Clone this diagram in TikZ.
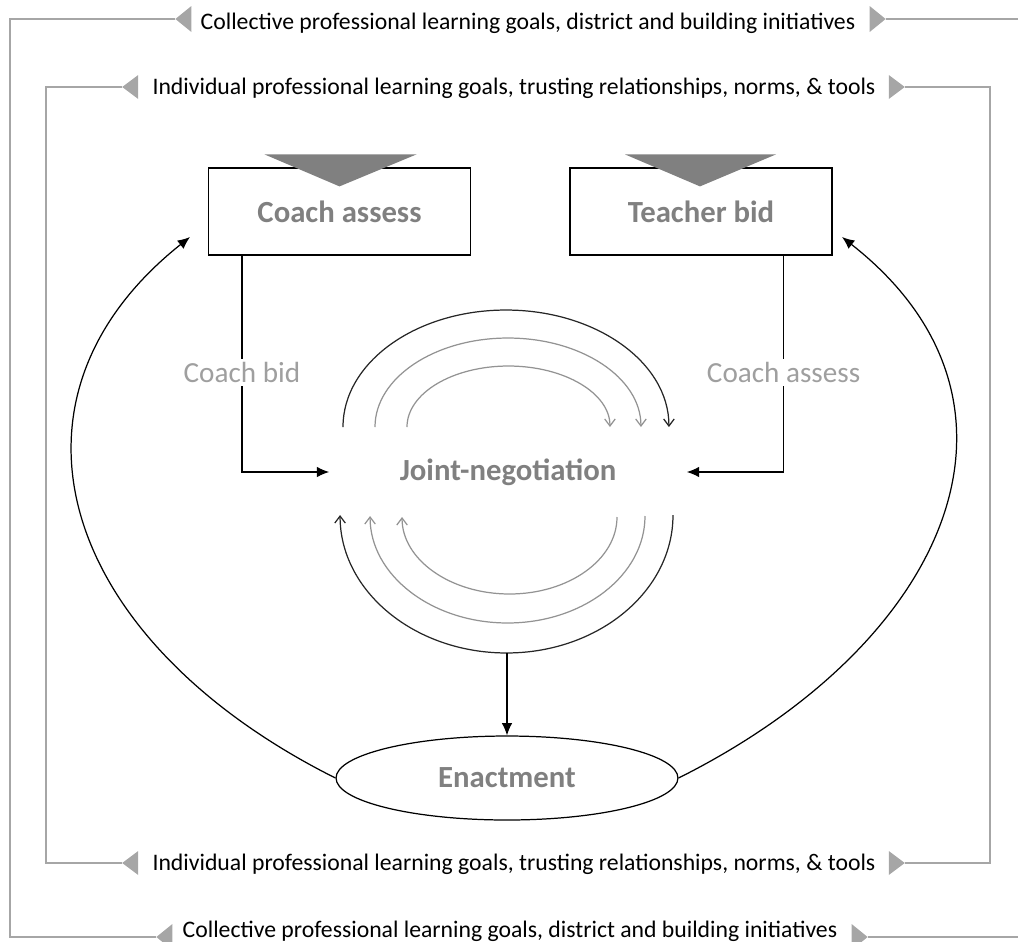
\documentclass[tikz,border=0pt]{standalone}
\usepackage{fontspec}
\setmainfont{Carlito}
\usetikzlibrary{arrows.meta,positioning,shapes.geometric}

\begin{document}
\begin{tikzpicture}[x=0.02cm, y=-0.02cm]

  % ── Estilos ────────────────────────────────────────────────
  \tikzset{
    moldura/.style = {draw=gray!70, line width=0.8pt},
    ponta/.style = {fill=gray!70},
    faixa/.style = {font=\fontsize{13.5}{15}\selectfont, inner sep=0pt},
    caixa/.style = {draw, line width=0.7pt, minimum width=5.24cm, minimum height=1.74cm,
                    font=\fontsize{17.5}{19}\selectfont\bfseries, text=gray},
    rotulo/.style = {fill=white, font=\fontsize{16.6}{18}\selectfont, text=gray!75, inner sep=2pt},
    fluxo/.style = {draw, line width=0.7pt, -{Latex[length=7pt,width=6pt]}},
    giro/.style = {line width=0.7pt, -{Straight Barb[length=4pt,width=6pt]}}
  }

  \useasboundingbox (0,0) rectangle (1018,941);

  % =========================================================
  % 1. FAIXAS DE CONTEXTO (molduras externa e interna)
  % =========================================================
  \node[faixa] (colcima) at (528,23) {Collective professional learning goals, district and building initiatives};
  \node[faixa] (indcima) at (514,88) {Individual professional learning goals, trusting relationships, norms, \& tools};
  \node[faixa] (indbaixo) at (514,864) {Individual professional learning goals, trusting relationships, norms, \& tools};
  \node[faixa] (colbaixo) at (510,931) {Collective professional learning goals, district and building initiatives};

  % Pontas cinzas nas extremidades das faixas
  \fill[ponta] ([shift={(-9,0)}]colcima.west |- 0,19) -- ++(0,-13) -- ++(-16,13) coordinate (colcimaE) -- ++(16,13) -- cycle;
  \fill[ponta] ([shift={(14,0)}]colcima.east |- 0,19) -- ++(0,-13) -- ++(16,13) coordinate (colcimaD) -- ++(-16,13) -- cycle;
  \fill[ponta] ([shift={(-14,0)}]indcima.west |- 0,87) -- ++(0,-12) -- ++(-16,12) coordinate (indcimaE) -- ++(16,12) -- cycle;
  \fill[ponta] ([shift={(13,0)}]indcima.east |- 0,87) -- ++(0,-12) -- ++(16,12) coordinate (indcimaD) -- ++(-16,12) -- cycle;
  \fill[ponta] ([shift={(-14,0)}]indbaixo.west |- 0,863) -- ++(0,-12) -- ++(-16,12) coordinate (indbaixoE) -- ++(16,12) -- cycle;
  \fill[ponta] ([shift={(13,0)}]indbaixo.east |- 0,863) -- ++(0,-12) -- ++(16,12) coordinate (indbaixoD) -- ++(-16,12) -- cycle;
  \fill[ponta] ([shift={(-10,0)}]colbaixo.west |- 0,937) -- ++(0,-13) -- ++(-16,13) coordinate (colbaixoE) -- ++(16,13) -- cycle;
  \fill[ponta] ([shift={(14,0)}]colbaixo.east |- 0,937) -- ++(0,-13) -- ++(16,13) coordinate (colbaixoD) -- ++(-16,13) -- cycle;

  % Linhas das molduras
  \draw[moldura] (colcimaE) -- (10,19) -- (10,937) -- (colbaixoE);
  \draw[moldura] (colcimaD) -- (1018,19);
  \draw[moldura] (colbaixoD) -- (1018,937);
  \draw[moldura] (indcimaE) -- (46,87) -- (46,863) -- (indbaixoE);
  \draw[moldura] (indcimaD) -- (990,87) -- (990,863) -- (indbaixoD);

  % =========================================================
  % 2. CAIXAS E NEGOCIACAO
  % =========================================================
  \node[caixa] (avaliar) at (339.5,211.5) {Coach assess};
  \node[caixa] (proposta) at (701,211.5) {Teacher bid};

  % Triangulos escuros sobre as caixas
  \fill[gray] ([shift={(-75,-13)}]avaliar.north) -- ([shift={(77,-13)}]avaliar.north) -- ([shift={(0,19)}]avaliar.north) -- cycle;
  \fill[gray] ([shift={(-76,-13)}]proposta.north) -- ([shift={(75,-13)}]proposta.north) -- ([shift={(-1,19)}]proposta.north) -- cycle;

  \node[minimum width=7.14cm, font=\fontsize{17.5}{19}\selectfont\bfseries, text=gray] (negocia) at (508,472) {Joint-negotiation};

  \node[draw, ellipse, line width=0.7pt, minimum width=6.84cm, minimum height=1.68cm, inner sep=0pt,
        font=\fontsize{17.5}{19}\selectfont\bfseries, text=gray] (pratica) at (507,778) {Enactment};

  % Lances do coach e do professor
  \draw[fluxo] ([xshift=0.68cm]avaliar.south west) |- node[rotulo, pos=0.27] {Coach bid} (negocia.west);
  \draw[fluxo] ([xshift=-0.98cm]proposta.south east) |- node[rotulo, pos=0.27] {Coach assess} (negocia.east);

  % Arcos em volta da negociacao
  \draw[giro, black!85] (343,427) arc[start angle=180, end angle=0, x radius=3.26cm, y radius=2.34cm];
  \draw[giro, gray!85] (375,427) arc[start angle=180, end angle=0, x radius=2.66cm, y radius=1.78cm];
  \draw[giro, gray!85] (407,427) arc[start angle=180, end angle=0, x radius=2.03cm, y radius=1.22cm];
  \draw[giro, black!85] (673,515) arc[start angle=0, end angle=-180, x radius=3.33cm, y radius=2.76cm];
  \draw[giro, gray!85] (645,516) arc[start angle=0, end angle=-180, x radius=2.75cm, y radius=2.14cm];
  \draw[giro, gray!85] (617,517) arc[start angle=0, end angle=-180, x radius=2.15cm, y radius=1.54cm];

  \coordinate (fundo) at (507,653);
  \draw[fluxo] (fundo) -- (pratica.north);

  % Retorno da pratica para as caixas
  \coordinate (voltaA) at (190,237);
  \coordinate (voltaB) at (842,237);
  \draw[fluxo] (pratica.west) .. controls (60,640) and (-15,400) .. (voltaA);
  \draw[fluxo] (pratica.east) .. controls (954,640) and (1050,400) .. (voltaB);

\end{tikzpicture}
\end{document}
